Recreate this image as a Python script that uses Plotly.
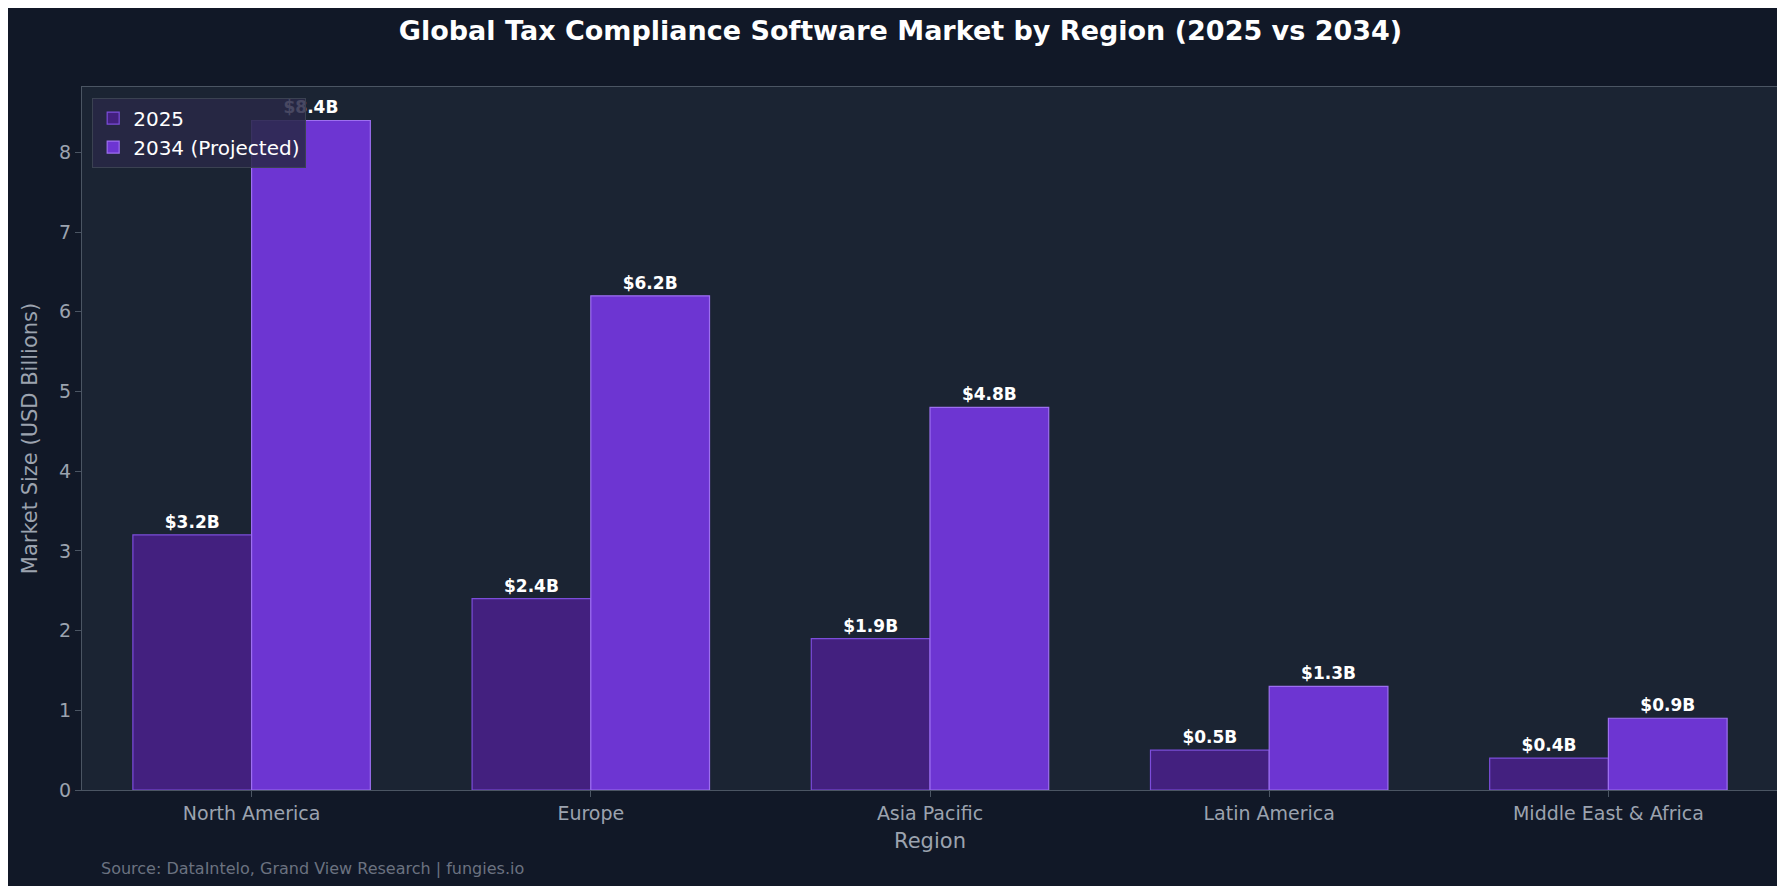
import plotly.graph_objects as go

regions = ["North America", "Europe", "Asia Pacific", "Latin America", "Middle East & Africa"]
values_2025 = [3.2, 2.4, 1.9, 0.5, 0.4]
values_2034 = [8.4, 6.2, 4.8, 1.3, 0.9]

font = "DejaVu Sans"

fig = go.Figure()
fig.add_trace(go.Bar(
    x=regions, y=values_2025, name="2025",
    marker=dict(color="#43207f", line=dict(color="#7c4ddb", width=1.2)),
    text=[f"${v}B" for v in values_2025], textposition="outside", cliponaxis=False,
    textfont=dict(color="white", size=17, family=font, weight="bold"),
))
fig.add_trace(go.Bar(
    x=regions, y=values_2034, name="2034 (Projected)",
    marker=dict(color="#6d35d2", line=dict(color="#9d6ff0", width=1.2)),
    text=[f"${v}B" for v in values_2034], textposition="outside", cliponaxis=False,
    textfont=dict(color="white", size=17, family=font, weight="bold"),
))

fig.update_layout(
    width=1785, height=886,
    paper_bgcolor="#111827", plot_bgcolor="#1b2433",
    font=dict(family=font, color="#9ca3af", size=19),
    title=dict(text="<b>Global Tax Compliance Software Market by Region (2025 vs 2034)</b>",
               x=0.5, y=0.985, yanchor="top", xanchor="center", font=dict(size=27, color="white")),
    barmode="group", bargap=0.3, bargroupgap=0,
    margin=dict(l=74, r=15, t=79, b=104),
    legend=dict(x=0.006, y=0.985, xanchor="left", yanchor="top",
                bgcolor="rgba(40,40,70,0.85)", bordercolor="#3b4252", borderwidth=1,
                font=dict(color="white", size=20)),
    xaxis=dict(title=dict(text="Region", font=dict(size=21), standoff=10),
               showline=True, linecolor="#4b5563", mirror=True, ticks="outside",
               tickcolor="#4b5563", ticklen=6),
    yaxis=dict(title=dict(text="Market Size (USD Billions)", font=dict(size=21)),
               range=[0, 8.82], dtick=1, showgrid=False, zeroline=False,
               showline=True, linecolor="#4b5563", mirror=True, ticks="outside",
               tickcolor="#4b5563", ticklen=6),
    annotations=[dict(text="Source: DataIntelo, Grand View Research | fungies.io",
                      xref="paper", yref="paper", x=0.01, y=-0.095, xanchor="left",
                      yanchor="top", showarrow=False,
                      font=dict(size=16, color="#6b7280"))],
)

fig.write_html("out.html")
